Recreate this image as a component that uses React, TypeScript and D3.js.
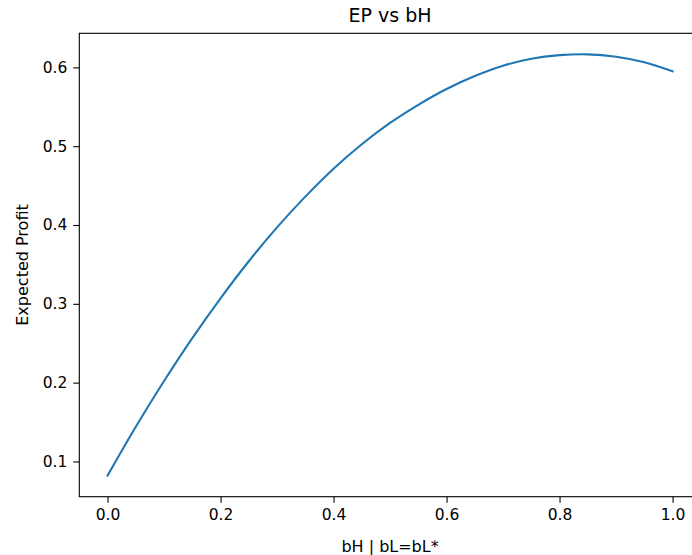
import React, { useEffect, useRef } from "react";
import * as d3 from "d3";

const bH = [0, 0.05, 0.1, 0.15, 0.2, 0.25, 0.3, 0.35, 0.4, 0.45, 0.5, 0.55, 0.6, 0.65, 0.7, 0.75, 0.8, 0.85, 0.9, 0.95, 1.0];
const EP = [0.082, 0.144, 0.202, 0.2565, 0.307, 0.354, 0.397, 0.436, 0.4715, 0.5025, 0.5295, 0.5525, 0.5725, 0.589, 0.6021, 0.611, 0.6155, 0.6165, 0.6135, 0.6065, 0.595];
const xTicks = [0, 0.2, 0.4, 0.6, 0.8, 1.0];
const yTicks = [0.1, 0.2, 0.3, 0.4, 0.5, 0.6];

const W = 692;
const H = 555;
const left = 79.3;
const right = 700.8;
const top = 33.3;
const bottom = 496.7;
const FONT = "DejaVu Sans, sans-serif";

export default function App() {
  const ref = useRef<SVGSVGElement>(null);
  useEffect(() => {
    const svg = d3.select(ref.current);
    svg.selectAll("*").remove();
    const xmin = d3.min(bH)!, xmax = d3.max(bH)!;
    const ymin = d3.min(EP)!, ymax = d3.max(EP)!;
    const xm = (xmax - xmin) * 0.05, ym = (ymax - ymin) * 0.05;
    const x = d3.scaleLinear().domain([xmin - xm, xmax + xm]).range([left, right]);
    const y = d3.scaleLinear().domain([ymin - ym, ymax + ym]).range([bottom, top]);

    svg.append("rect").attr("width", W).attr("height", H).attr("fill", "white");

    const line = d3
      .line<number>()
      .x((_, i) => x(bH[i]))
      .y((d) => y(d))
      .curve(d3.curveCatmullRom);
    svg
      .append("path")
      .attr("d", line(EP))
      .attr("fill", "none")
      .attr("stroke", "#1f77b4")
      .attr("stroke-width", 2.1)
      .attr("stroke-linecap", "square");

    // spines
    svg
      .append("rect")
      .attr("x", left)
      .attr("y", top)
      .attr("width", right - left)
      .attr("height", bottom - top)
      .attr("fill", "none")
      .attr("stroke", "black")
      .attr("stroke-width", 1.1);

    const xg = svg.append("g").attr("transform", `translate(0,${bottom})`);
    xg.call(
      d3
        .axisBottom(x)
        .tickValues(xTicks)
        .tickFormat(d3.format(".1f"))
        .tickSize(6)
        .tickPadding(6)
    );
    xg.select(".domain").remove();
    xg.selectAll("line").attr("stroke", "black").attr("stroke-width", 1.1);
    xg.selectAll("text").attr("font-family", FONT).attr("font-size", 15.5).attr("fill", "black");

    const yg = svg.append("g").attr("transform", `translate(${left},0)`);
    yg.call(
      d3
        .axisLeft(y)
        .tickValues(yTicks)
        .tickFormat(d3.format(".1f"))
        .tickSize(6)
        .tickPadding(6)
    );
    yg.select(".domain").remove();
    yg.selectAll("line").attr("stroke", "black").attr("stroke-width", 1.1);
    yg.selectAll("text").attr("font-family", FONT).attr("font-size", 15.5).attr("fill", "black");

    svg
      .append("text")
      .attr("x", (left + right) / 2)
      .attr("y", 22)
      .attr("text-anchor", "middle")
      .attr("font-family", FONT)
      .attr("font-size", 19)
      .text("EP vs bH");

    svg
      .append("text")
      .attr("x", (left + right) / 2)
      .attr("y", 552)
      .attr("text-anchor", "middle")
      .attr("font-family", FONT)
      .attr("font-size", 16)
      .text("bH | bL=bL*");

    svg
      .append("text")
      .attr("transform", `translate(28,${(top + bottom) / 2}) rotate(-90)`)
      .attr("text-anchor", "middle")
      .attr("font-family", FONT)
      .attr("font-size", 16)
      .text("Expected Profit");
  }, []);

  return (
    <div style={{ position: "absolute", left: 0, top: 0 }}>
      <svg ref={ref} width={W} height={H} style={{ display: "block" }} />
    </div>
  );
}
